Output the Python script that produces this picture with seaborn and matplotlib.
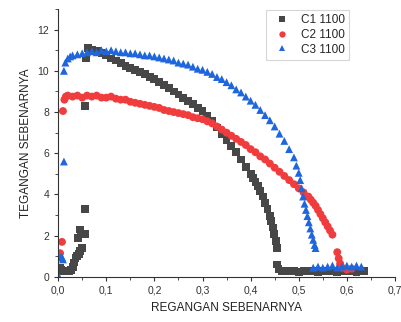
import matplotlib
matplotlib.use("Agg")
import matplotlib.pyplot as plt
from matplotlib.ticker import MultipleLocator, FuncFormatter
import pandas as pd
import seaborn as sns
import numpy as np

# Data (true strain vs true stress)
c1_x = [0.003, 0.006, 0.010, 0.014, 0.018, 0.022, 0.026, 0.030, 0.033, 0.036, 0.040, 0.043,
        0.046, 0.049, 0.042, 0.045, 0.048, 0.055, 0.056, 0.056, 0.058, 0.062, 0.067,
        0.070, 0.080, 0.090, 0.100, 0.110, 0.120, 0.130, 0.140, 0.150, 0.160, 0.170, 0.180,
        0.190, 0.200, 0.210, 0.220, 0.230, 0.240, 0.250, 0.260, 0.270, 0.280, 0.290, 0.300,
        0.310, 0.320, 0.330, 0.340, 0.350, 0.360, 0.370, 0.380, 0.390, 0.400, 0.405, 0.410,
        0.415, 0.420, 0.425, 0.430, 0.435, 0.440, 0.443, 0.446, 0.449, 0.452, 0.455,
        0.455, 0.458, 0.465, 0.470, 0.480, 0.490, 0.500, 0.510, 0.520, 0.530, 0.540, 0.550,
        0.560, 0.570, 0.580, 0.590, 0.600, 0.610, 0.620, 0.630, 0.635]
c1_y = [0.45, 0.35, 0.30, 0.28, 0.30, 0.30, 0.35, 0.50, 0.70, 0.90, 1.00, 1.10,
        1.25, 1.40, 1.90, 2.30, 2.10, 2.10, 3.30, 8.30, 10.60, 11.10, 11.00,
        11.00, 10.95, 10.85, 10.75, 10.60, 10.50, 10.40, 10.25, 10.15, 10.05, 9.95, 9.85,
        9.70, 9.60, 9.45, 9.30, 9.15, 9.00, 8.85, 8.70, 8.55, 8.40, 8.20, 8.05,
        7.80, 7.55, 7.25, 6.95, 6.65, 6.35, 6.05, 5.70, 5.35, 5.00, 4.80, 4.60,
        4.40, 4.15, 3.90, 3.60, 3.30, 2.95, 2.70, 2.40, 2.10, 1.75, 1.40,
        0.60, 0.40, 0.30, 0.30, 0.28, 0.30, 0.25, 0.30, 0.28, 0.30, 0.25, 0.30,
        0.28, 0.30, 0.25, 0.30, 0.28, 0.30, 0.25, 0.30, 0.28]

c2_x = [0.004, 0.008, 0.010, 0.013, 0.016, 0.020, 0.030, 0.040, 0.050, 0.060, 0.070, 0.080,
        0.090, 0.100, 0.110, 0.120, 0.130, 0.140, 0.150, 0.160, 0.170, 0.180, 0.190, 0.200,
        0.210, 0.220, 0.230, 0.240, 0.250, 0.260, 0.270, 0.280, 0.290, 0.300, 0.310, 0.320,
        0.330, 0.340, 0.350, 0.360, 0.370, 0.380, 0.390, 0.400, 0.410, 0.420, 0.430, 0.440,
        0.450, 0.460, 0.470, 0.480, 0.490, 0.500, 0.510, 0.520, 0.525, 0.530, 0.535, 0.540,
        0.545, 0.550, 0.555, 0.560, 0.565, 0.570, 0.580, 0.583, 0.586, 0.590, 0.600, 0.610]
c2_y = [1.15, 1.70, 8.05, 8.60, 8.75, 8.80, 8.75, 8.80, 8.70, 8.80, 8.75, 8.80,
        8.70, 8.70, 8.75, 8.65, 8.60, 8.60, 8.50, 8.45, 8.40, 8.35, 8.30, 8.25,
        8.20, 8.10, 8.05, 8.00, 7.95, 7.90, 7.85, 7.75, 7.70, 7.65, 7.55, 7.45,
        7.30, 7.15, 7.00, 6.85, 6.70, 6.55, 6.40, 6.20, 6.05, 5.85, 5.70, 5.50,
        5.30, 5.10, 4.90, 4.70, 4.50, 4.30, 4.10, 3.90, 3.75, 3.60, 3.45, 3.25,
        3.05, 2.85, 2.65, 2.45, 2.25, 2.05, 1.20, 0.90, 0.65, 0.45, 0.35, 0.40]

c3_x = [0.002, 0.005, 0.008, 0.010, 0.012, 0.012, 0.015, 0.020, 0.025, 0.030, 0.040, 0.050,
        0.060, 0.070, 0.080, 0.090, 0.100, 0.110, 0.120, 0.130, 0.140, 0.150, 0.160, 0.170,
        0.180, 0.190, 0.200, 0.210, 0.220, 0.230, 0.240, 0.250, 0.260, 0.270, 0.280, 0.290,
        0.300, 0.310, 0.320, 0.330, 0.340, 0.350, 0.360, 0.370, 0.380, 0.390, 0.400, 0.410,
        0.420, 0.430, 0.440, 0.450, 0.460, 0.470, 0.480, 0.490, 0.495, 0.500, 0.503, 0.506,
        0.509, 0.512, 0.515, 0.518, 0.521, 0.524, 0.527, 0.530, 0.533, 0.535,
        0.530, 0.540, 0.550, 0.560, 0.570, 0.580, 0.590, 0.600, 0.610, 0.620, 0.630]
c3_y = [0.00, 0.95, 0.95, 0.85, 5.60, 10.00, 10.40, 10.60, 10.70, 10.75, 10.80, 10.85,
        10.90, 10.95, 10.90, 11.00, 10.95, 11.00, 10.95, 10.90, 10.90, 10.85, 10.85, 10.80,
        10.75, 10.75, 10.70, 10.65, 10.60, 10.55, 10.50, 10.40, 10.35, 10.30, 10.20, 10.10,
        10.05, 9.95, 9.85, 9.70, 9.60, 9.45, 9.30, 9.10, 8.95, 8.75, 8.55, 8.35,
        8.10, 7.85, 7.60, 7.30, 6.95, 6.60, 6.20, 5.80, 5.40, 5.05, 4.70, 4.30,
        3.90, 3.55, 3.25, 2.95, 2.65, 2.35, 2.05, 1.80, 1.55, 1.40,
        0.45, 0.50, 0.45, 0.50, 0.55, 0.45, 0.50, 0.55, 0.50, 0.55, 0.50]

labels = ["C1 1100", "C2 1100", "C3 1100"]
colors = ["#474747", "#f03c3c", "#1f66dd"]
markers = ["s", "o", "^"]

df = pd.concat([
    pd.DataFrame({"strain": c1_x, "stress": c1_y, "sample": labels[0]}),
    pd.DataFrame({"strain": c2_x, "stress": c2_y, "sample": labels[1]}),
    pd.DataFrame({"strain": c3_x, "stress": c3_y, "sample": labels[2]}),
])

sns.set_style("ticks")
plt.rcParams["font.family"] = ["Liberation Sans", "DejaVu Sans"]

fig = plt.figure(figsize=(4.01, 3.22), dpi=100)
ax = fig.add_axes([0.145, 0.14, 0.84, 0.832])

sns.scatterplot(data=df, x="strain", y="stress", hue="sample", style="sample",
                palette=dict(zip(labels, colors)), markers=dict(zip(labels, markers)),
                s=32, linewidth=0, ax=ax)

ax.set_xlim(0, 0.7)
ax.set_ylim(0, 13)
ax.xaxis.set_major_locator(MultipleLocator(0.1))
ax.xaxis.set_minor_locator(MultipleLocator(0.05))
ax.yaxis.set_major_locator(MultipleLocator(2))
ax.yaxis.set_minor_locator(MultipleLocator(1))
ax.xaxis.set_major_formatter(FuncFormatter(lambda v, p: f"{v:.1f}".replace(".", ",")))
ax.tick_params(labelsize=7.5, colors="#333333", length=3, width=0.8)
ax.tick_params(which="minor", length=2, width=0.6, colors="#333333")
sns.despine(ax=ax)
for s in ["left", "bottom"]:
    ax.spines[s].set_color("#333333")
    ax.spines[s].set_linewidth(0.8)

ax.set_xlabel("REGANGAN SEBENARNYA", fontsize=8.5, color="#222222")
ax.set_ylabel("TEGANGAN SEBENARNYA", fontsize=8.5, color="#222222")

leg = ax.legend(loc="upper left", bbox_to_anchor=(0.6, 1.02), fontsize=8.5, frameon=True,
                fancybox=False, edgecolor="#cccccc", handletextpad=0.6, borderpad=0.35,
                labelspacing=0.25, markerscale=0.8)
leg.get_frame().set_linewidth(0.8)

fig.savefig("out.png", dpi=100)
